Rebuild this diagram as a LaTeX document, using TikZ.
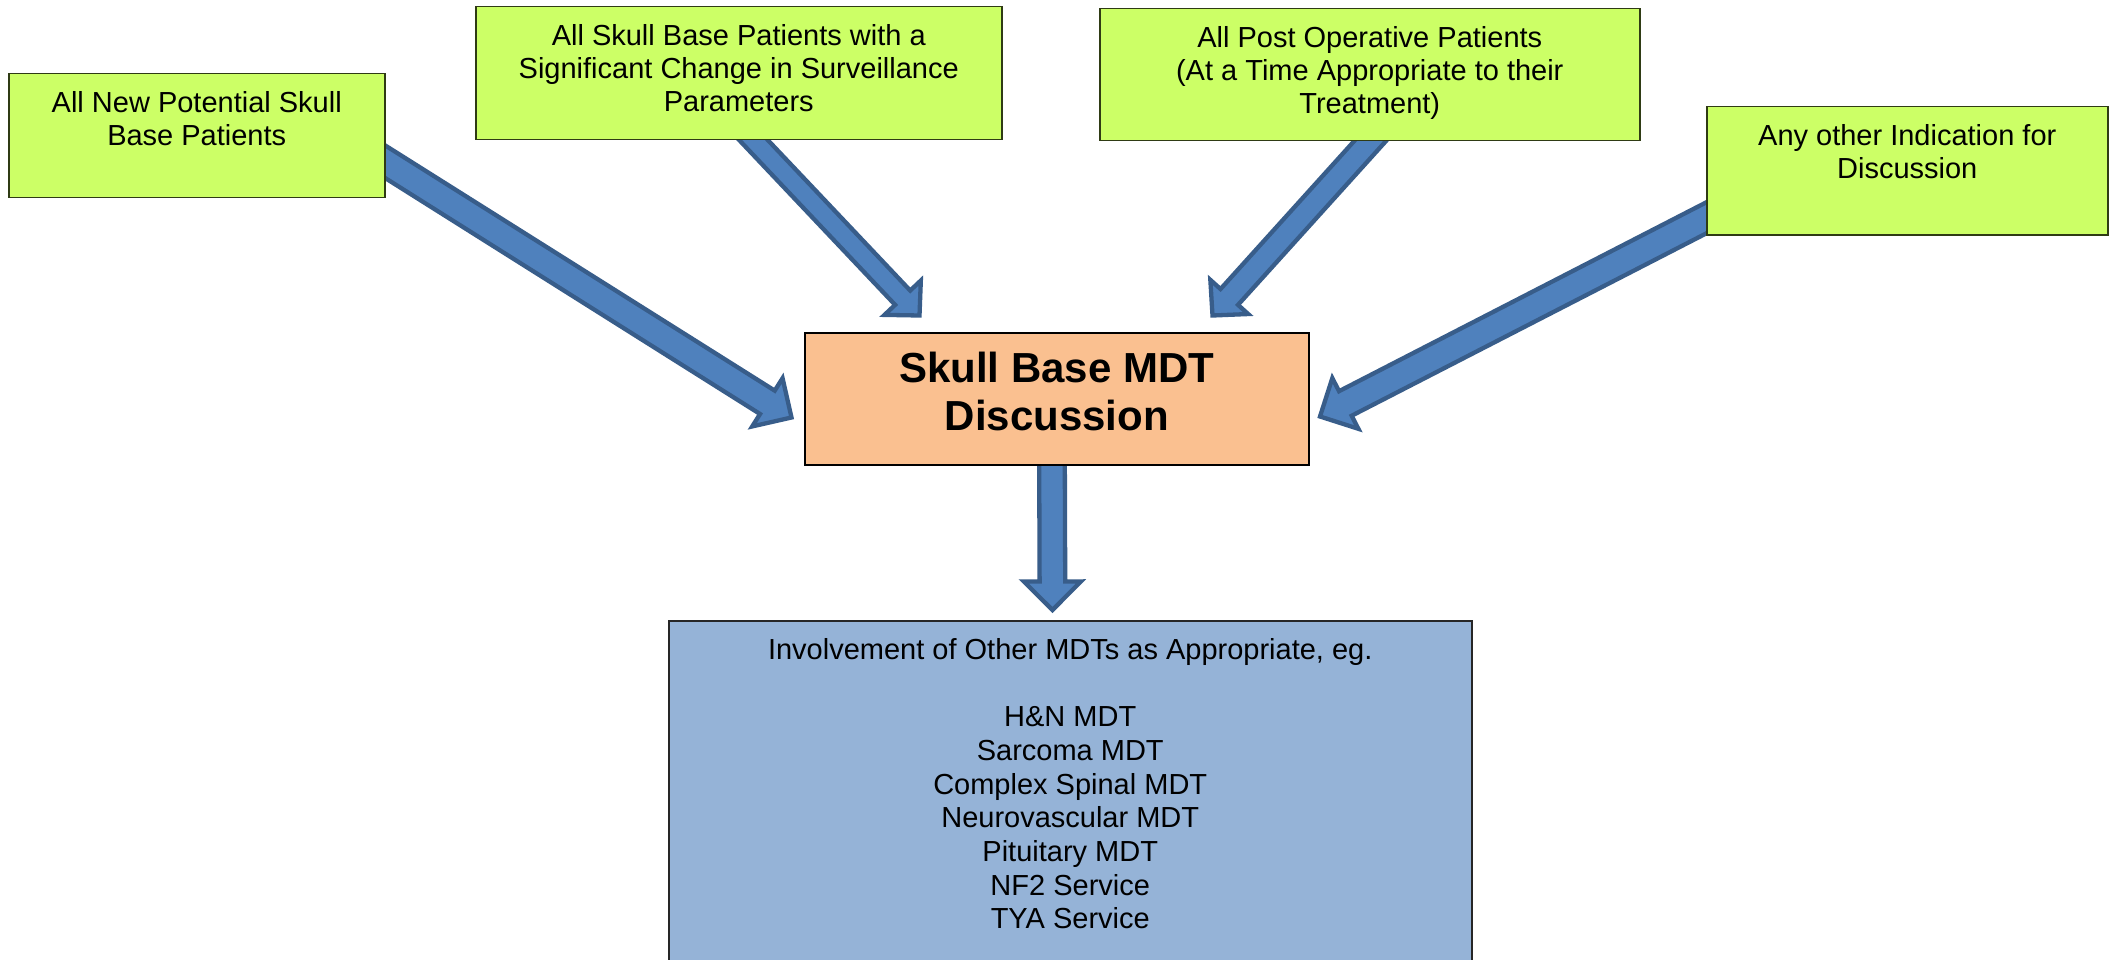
\documentclass[tikz,border=0pt]{standalone}
\usepackage{fontspec}
\setmainfont{Liberation Sans}
\usetikzlibrary{calc,backgrounds}
\definecolor{boxgreen}{HTML}{CCFF66}
\definecolor{greenline}{HTML}{2F3B14}
\definecolor{mdtfill}{HTML}{FAC090}
\definecolor{botfill}{HTML}{95B3D7}
\definecolor{arrowfill}{HTML}{4F81BD}
\definecolor{arrowline}{HTML}{385D8A}
% #1 start coordinate, #2 tip coordinate, #3 shaft half width, #4 head half width, #5 head length
\newcommand{\blockarr}[5]{%
  \coordinate (#2back) at ($(#2)!#5!(#1)$);
  \coordinate (#2rear) at ($(#1)!-40pt!(#2)$);
  \draw[blockarrow] ($(#2rear)!#3!90:(#2)$) -- ($(#2back)!#3!-90:(#1)$)
    -- ($(#2back)!#4!-90:(#1)$) -- (#2) -- ($(#2back)!#4!90:(#1)$)
    -- ($(#2back)!#3!90:(#1)$) -- ($(#2rear)!#3!-90:(#2)$) -- cycle;
}
\begin{document}
\begin{tikzpicture}[x=1pt,y=-1pt,
  greenbox/.style={draw=greenline, fill=boxgreen, line width=1.5pt, inner sep=0pt,
    anchor=north west, font=\fontsize{29}{33}\selectfont},
  mdtbox/.style={draw=black, fill=mdtfill, line width=1.5pt, inner sep=0pt,
    anchor=north west, font=\fontsize{42}{48}\selectfont\bfseries},
  botbox/.style={draw=black!85, fill=botfill, line width=1.5pt, inner sep=0pt,
    anchor=north west, font=\fontsize{29}{33.7}\selectfont},
  blockarrow/.style={fill=arrowfill, draw=arrowline, line width=4.3pt, line join=miter}]
\useasboundingbox (0,0) rectangle (2114,960);

\node[greenbox] (b1) at (8,73)
  {\parbox[c][124pt][t]{376pt}{\centering\rule{0pt}{39pt}All New Potential Skull\\Base Patients}};
\node[greenbox] (b2) at (475,6)
  {\parbox[c][133pt][t]{526pt}{\centering\rule{0pt}{39pt}All Skull Base Patients with a\\Significant Change in Surveillance\\Parameters}};
\node[greenbox] (b3) at (1099,8)
  {\parbox[c][132pt][t]{540pt}{\centering\rule{0pt}{39pt}All Post Operative Patients\\(At a Time Appropriate to their\\Treatment)}};
\node[greenbox] (b4) at (1706,106)
  {\parbox[c][128pt][t]{401pt}{\centering\rule{0pt}{39pt}Any other Indication for\\Discussion}};
\node[mdtbox] (mdt) at (804,332)
  {\parbox[c][132pt][t]{504pt}{\centering\rule{0pt}{50pt}Skull Base MDT\\Discussion}};
\node[botbox] (bot) at (668,620)
  {\parbox[c][350pt][t]{803pt}{\centering\rule{0pt}{38.5pt}Involvement of Other MDTs as Appropriate, eg.\\[33.7pt]
   H\&N MDT\\Sarcoma MDT\\Complex Spinal MDT\\Neurovascular MDT\\Pituitary MDT\\NF2 Service\\TYA Service}};

\begin{pgfonlayer}{background}
  \fill[white] (0,0) rectangle (2114,960);
  \coordinate (s1) at (384,161);
  \coordinate (t1) at (791.5,417.5);
  \coordinate (s2) at (752.5,139);
  \coordinate (t2) at (919.5,315.5);
  \coordinate (s3) at (1371,140);
  \coordinate (t3) at (1212.5,315.5);
  \coordinate (s4) at (1706,218);
  \coordinate (t4) at (1320,416.5);
  \coordinate (s5) at (1052,464);
  \coordinate (t5) at (1052.5,610);
  \blockarr{s1}{t1}{13.8pt}{28.5pt}{28.5pt}
  \blockarr{s2}{t2}{10.4pt}{25pt}{24.5pt}
  \blockarr{s3}{t3}{11.8pt}{25.5pt}{25pt}
  \blockarr{s4}{t4}{13.8pt}{28.5pt}{28.5pt}
  \blockarr{s5}{t5}{12.8pt}{28.5pt}{28.5pt}
\end{pgfonlayer}
\end{tikzpicture}
\end{document}
